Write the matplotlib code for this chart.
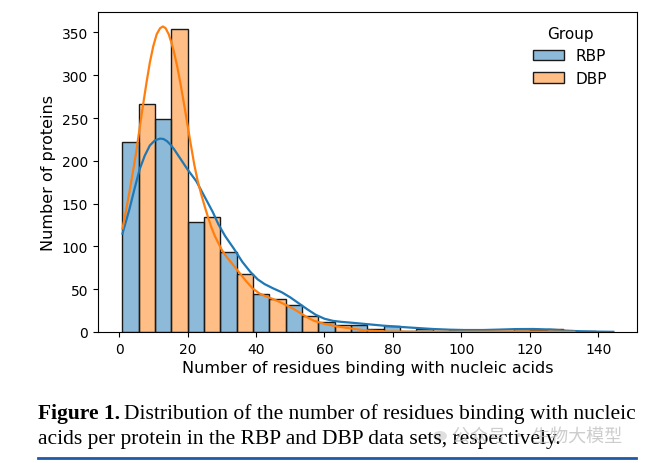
import numpy as np
import matplotlib
matplotlib.use("Agg")
import matplotlib.pyplot as plt
from matplotlib.patches import Patch, Circle

# ===== Data
groups = ["RBP", "DBP"]
bin_lo, bin_hi, n_bins = 1, 144, 15
rbp_counts = [222, 249, 129, 94, 44, 31, 12, 8, 7, 3, 2, 1, 3, 3, 1]
dbp_counts = [266, 354, 134, 68, 38, 19, 8, 3, 1, 1, 1, 1, 2, 1, 0]

# kde curves (already scaled to counts)
rbp_kde_x = [1, 2, 3, 4.5, 6, 7.5, 9, 10.5, 12, 13, 14, 15, 16, 18, 20, 21.3, 22.6, 25, 27.4, 29,
             31, 33.6, 36, 38.4, 40.5, 42.5, 45, 47.5, 50, 52.5, 55, 57.5, 60, 62.5, 65, 67.5,
             72.9, 77.2, 82, 86.9, 91.7, 96.6, 101, 106.3, 111, 116, 121, 126, 130.6, 135, 140, 144.4]
rbp_kde_y = [115, 129, 143, 167, 190, 206, 218, 224, 226, 225.5, 223, 219, 214, 202, 190, 183, 176, 158, 140, 126,
             112, 97, 82, 70, 61.5, 56, 51, 46.5, 40.5, 33.5, 26.5, 20, 15.5, 13, 11.8, 11,
             9, 7.4, 6, 4.7, 3.5, 2.7, 2.3, 2.3, 2.8, 3.4, 3.5, 2.9, 1.6, 0.8, 0.4, 0.2]
dbp_kde_x = [1, 2, 3, 4, 5, 6, 7, 8, 9, 10, 11, 12, 12.8, 13.6, 14.5, 15.3, 16, 17, 18, 19, 20, 21,
             22, 23, 24, 25, 26, 27, 28, 29, 30, 31, 32, 33, 35, 37, 39, 41, 43, 45, 47, 49, 51,
             53, 55, 57, 60, 63, 67, 72, 78, 85, 100, 120, 133]
dbp_kde_y = [121, 141, 163, 186, 210, 238, 265, 291, 315, 334, 348, 355, 357, 355, 348, 338, 328, 310, 289, 266, 242, 218,
             195, 176, 161, 147, 134, 122, 112, 104, 96, 90, 85, 80, 70, 60, 51, 45, 41.5, 38.5, 35, 31, 27,
             22, 17, 13, 9.5, 7, 4.5, 1.8, 0.6, 0.3, 0.3, 0.6, 0.2]

caption_bold = "Figure 1."
caption_line1 = "Distribution of the number of residues binding with nucleic"
caption_line2 = "acids per protein in the RBP and DBP data sets, respectively."
watermark = "公众号 · 生物大模型"

blue = "#1f77b4"
orange = "#ff7f0e"

# ===== Figure
fig = plt.figure(figsize=(6.47, 4.64), dpi=100)
ax = fig.add_axes([98 / 647, 1 - 333 / 464, (636.5 - 98) / 647, (333 - 12.5) / 464])

edges = np.linspace(bin_lo, bin_hi, n_bins + 1)
half = (edges[1] - edges[0]) / 2
ax.bar(edges[:-1], rbp_counts, width=half, align="edge",
       facecolor=matplotlib.colors.to_rgba(blue, 0.5), edgecolor="#1a1a1a", linewidth=1)
ax.bar(edges[:-1] + half, dbp_counts, width=half, align="edge",
       facecolor=matplotlib.colors.to_rgba(orange, 0.5), edgecolor="#1a1a1a", linewidth=1)
ax.plot(rbp_kde_x, rbp_kde_y, color=blue, lw=1.6, solid_joinstyle="round")
ax.plot(dbp_kde_x, dbp_kde_y, color=orange, lw=1.6, solid_joinstyle="round")

ax.set_xlim(-6.15, 151.15)
ax.set_ylim(0, 374.5)
ax.set_xticks(np.arange(0, 141, 20))
ax.set_yticks(np.arange(0, 351, 50))
ax.tick_params(labelsize=10)
ax.set_xlabel("Number of residues binding with nucleic acids", fontsize=11.5, labelpad=3)
ax.set_ylabel("Number of proteins", fontsize=11.5, labelpad=4)

handles = [Patch(facecolor=matplotlib.colors.to_rgba(c, 0.5), edgecolor="#1a1a1a", lw=1)
           for c in (blue, orange)]
ax.legend(handles, groups, title="Group", loc="upper right", frameon=False,
          fontsize=11, title_fontsize=11, borderaxespad=0, bbox_to_anchor=(0.957, 0.975))

# ===== Caption below the plot (font size fitted to the caption width)
serif = "Liberation Serif"
fs = 13.5
t1 = fig.text(38 / 647, 1 - 419 / 464, caption_bold, fontsize=fs, family=serif,
              weight="bold", va="baseline")
t2 = fig.text(0, 1 - 419 / 464, caption_line1, fontsize=fs, family=serif, va="baseline")
fig.canvas.draw()
w = t1.get_window_extent().width + 4 + t2.get_window_extent().width
fs = fs * (636 - 38) / w
t1.set_fontsize(fs)
t2.set_fontsize(fs)
fig.canvas.draw()
t2.set_x((t1.get_window_extent().x1 + 4) / 647)
fig.text(38 / 647, 1 - 444 / 464, caption_line2, fontsize=fs, family=serif, va="baseline")

# faint watermark over the second caption line
fig.add_artist(Circle((440 / 647, 1 - 437 / 464), 7 / 647, transform=fig.transFigure,
                      facecolor="#d8d8d8", edgecolor="none", alpha=0.8))
fig.text(452 / 647, 1 - 443 / 464, watermark, fontsize=13, family=["Noto Sans CJK SC", "DejaVu Sans"],
         color="#bdbdbd", alpha=0.75, va="baseline")
fig.add_artist(plt.Line2D([38 / 647, 636 / 647], [1 - 459 / 464] * 2, color="#1f5aa6", lw=2))

fig.savefig("out.png", dpi=100)
